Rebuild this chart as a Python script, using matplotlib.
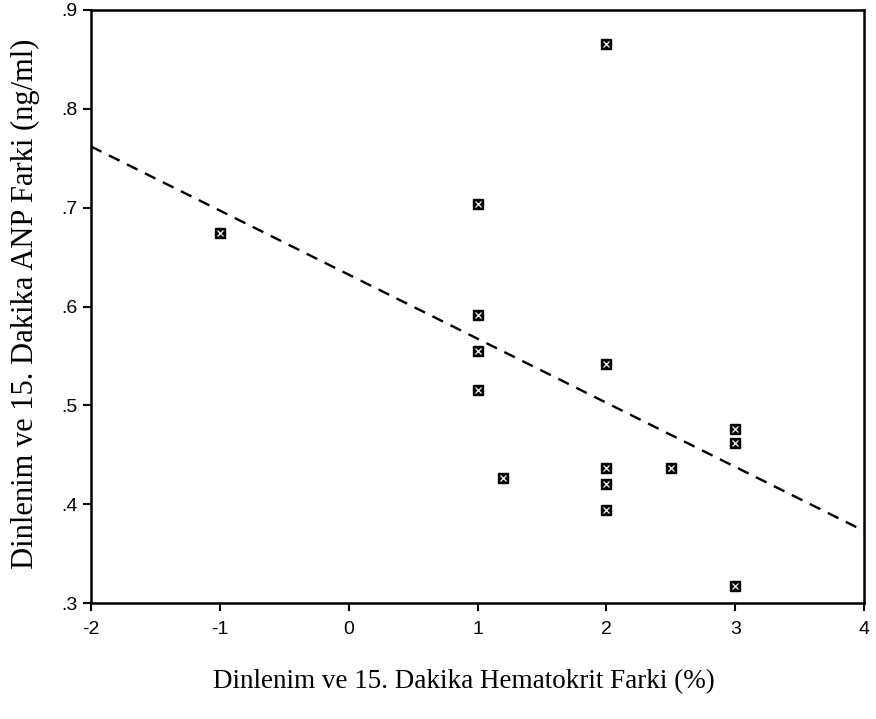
import matplotlib
matplotlib.use("Agg")
import matplotlib.pyplot as plt
import numpy as np

# hematocrit difference (%) vs ANP difference (ng/ml)
hct_diff = [2, 1, -1, 1, 1, 1, 2, 1.2, 2, 2, 2, 2.5, 3, 3, 3]
anp_diff = [0.866, 0.704, 0.674, 0.591, 0.555, 0.516, 0.542, 0.427,
            0.437, 0.420, 0.394, 0.437, 0.476, 0.462, 0.317]

x_ticks = [-2, -1, 0, 1, 2, 3, 4]
x_ticklabels = ["-2", "-1", "0", "1", "2", "3", "4"]
y_ticks = [0.3, 0.4, 0.5, 0.6, 0.7, 0.8, 0.9]
y_ticklabels = [".3", ".4", ".5", ".6", ".7", ".8", ".9"]

x = np.array(hct_diff)
y = np.array(anp_diff)

fig = plt.figure(figsize=(8.76, 7.19), dpi=100)
ax = fig.add_axes([0.1039, 0.1613, 0.8824, 0.8248])

# least squares fit line across the full x range
slope, icept = np.polyfit(x, y, 1)
xl = np.linspace(-2, 4, 50)
ax.plot(xl, icept + slope * xl, color="black", lw=1.7,
        dashes=(5, 3.5), zorder=2)

# boxed-x markers: dark square with a light cross inside
ax.plot(x, y, ls="none", marker="s", ms=7.5, mfc="black", mec="black",
        mew=1.0, zorder=3)
ax.plot(x, y, ls="none", marker="x", ms=4, mec="white", mew=0.9, zorder=4)

ax.set_xlim(-2, 4)
ax.set_ylim(0.3, 0.9)
ax.set_xticks(x_ticks)
ax.set_xticklabels(x_ticklabels)
ax.set_yticks(y_ticks)
ax.set_yticklabels(y_ticklabels)

for s in ax.spines.values():
    s.set_linewidth(1.8)
ax.tick_params(direction="out", length=6, width=1.5, labelsize=14)
ax.tick_params(axis="x", pad=7)
ax.tick_params(axis="y", pad=4)
for lab in ax.get_xticklabels() + ax.get_yticklabels():
    lab.set_family("Liberation Sans")

ax.set_xlabel("Dinlenim ve 15. Dakika Hematokrit Farki (%)",
              family="Liberation Serif", fontsize=19.5)
ax.set_ylabel("Dinlenim ve 15. Dakika ANP Farki (ng/ml)",
              family="Liberation Serif", fontsize=22)
ax.xaxis.set_label_coords(0.482, -0.112)
ax.yaxis.set_label_coords(-0.066, 0.504)

fig.savefig("out.png", dpi=100)
